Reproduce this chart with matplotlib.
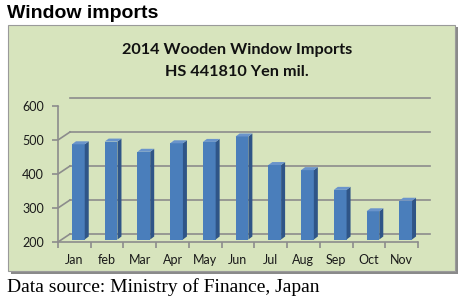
import matplotlib
matplotlib.use('Agg')
import matplotlib.pyplot as plt
from matplotlib.patches import Polygon, Rectangle
from matplotlib.transforms import ScaledTranslation, IdentityTransform
import numpy as np

months = ['Jan', 'feb', 'Mar', 'Apr', 'May', 'Jun', 'Jul', 'Aug', 'Sep', 'Oct', 'Nov']
values = [480, 488, 458, 483, 487, 503, 419, 404, 346, 283, 314]
yticks = [200, 300, 400, 500, 600]

W, H = 466, 302
fig = plt.figure(figsize=(W / 100, H / 100), dpi=100)
fig.patch.set_facecolor('white')

def fx(x):
    return x / W

def fy(y):
    return 1 - y / H

GRID = '#8c8c8c'
# panel shadow + panel
fig.patches.append(Rectangle((fx(11), fy(274)), fx(447), 247 / H, transform=fig.transFigure,
                             facecolor='#8a8a8a', edgecolor='none', zorder=-2))
fig.patches.append(Rectangle((fx(8), fy(271)), fx(447), 246 / H, transform=fig.transFigure,
                             facecolor='#D7E4BD', edgecolor='#9a9a9a', lw=0.8, zorder=-1))

fig.text(fx(7), fy(17.5), 'Window imports', fontsize=14, fontweight='bold',
         family='Liberation Sans', va='baseline', ha='left')
fig.text(fx(237), fy(50), '2014 Wooden Window Imports', fontsize=11.7, fontweight='bold',
         family='Lato', va='center', ha='center', color='#111111')
fig.text(fx(237), fy(72), 'HS 441810 Yen mil.', fontsize=11.7, fontweight='bold',
         family='Lato', va='center', ha='center', color='#111111')
fig.text(fx(7), fy(292), 'Data source: Ministry of Finance, Japan', fontsize=14,
         family='Liberation Serif', va='baseline', ha='left')

ax = fig.add_axes([fx(58), fy(242), fx(360), 136 / H])
ax.set_xlim(-0.5, len(months) - 0.5)
ax.set_ylim(yticks[0], yticks[-1])
ax.patch.set_visible(False)
for s in ['top', 'right']:
    ax.spines[s].set_visible(False)
for s in ['left', 'bottom']:
    ax.spines[s].set_color(GRID)
    ax.spines[s].set_linewidth(1.2)

ax.set_yticks(yticks)
ax.set_yticklabels([str(v) for v in yticks], family='Lato', fontsize=9, color='#1a1a1a')
ax.set_xticks(range(len(months)))
ax.set_xticklabels(months, family='Lato', fontsize=9, color='#1a1a1a')
ax.set_xticks(np.arange(-0.5, len(months)), minor=True)
ax.tick_params(axis='y', length=4, color=GRID, width=1.2, pad=6)
ax.tick_params(axis='x', which='major', length=0, pad=9)
ax.tick_params(axis='x', which='minor', length=4, color=GRID, width=1.2)

DX, DY = 12, 8
tb = ax.transData + ScaledTranslation(DX / 100, DY / 100, fig.dpi_scale_trans)
x0, x1 = -0.5, len(months) - 0.5
for v in yticks:
    ax.plot([x0, x1], [v, v], transform=tb, color=GRID, lw=1.2, clip_on=False, zorder=1)
    p = ax.transData.transform((x0, v))
    ax.add_line(plt.Line2D([p[0], p[0] + DX], [p[1], p[1] + DY], transform=IdentityTransform(),
                           color=GRID, lw=1.2, zorder=1))
p = ax.transData.transform((x1, yticks[0]))
ax.add_line(plt.Line2D([p[0], p[0] + DX], [p[1], p[1] + DY], transform=IdentityTransform(),
                       color=GRID, lw=1.2, zorder=1))

# bars
bw = 0.39
OX, OY = 4, 2.5
SX, SY = 4, 3
FRONT, SIDE, TOP = '#4a7ebb', '#2f5587', '#6a94cb'
tf = ax.transData + ScaledTranslation(OX / 100, OY / 100, fig.dpi_scale_trans)
ax.bar(range(len(months)), [v - yticks[0] for v in values], bottom=yticks[0], width=bw,
       color=FRONT, transform=tf, zorder=3, clip_on=False)
for i, v in enumerate(values):
    bl = ax.transData.transform((i + bw / 2, yticks[0])) + (OX, OY)
    tr = ax.transData.transform((i + bw / 2, v)) + (OX, OY)
    tl = ax.transData.transform((i - bw / 2, v)) + (OX, OY)
    side = [bl, tr, tr + (SX, SY), bl + (SX, SY)]
    top = [tl, tr, tr + (SX, SY), tl + (SX, SY)]
    ax.add_patch(Polygon(side, closed=True, transform=IdentityTransform(), facecolor=SIDE,
                         edgecolor='none', zorder=3, clip_on=False))
    ax.add_patch(Polygon(top, closed=True, transform=IdentityTransform(), facecolor=TOP,
                         edgecolor='none', zorder=3, clip_on=False))

fig.savefig('out.png', dpi=100)
